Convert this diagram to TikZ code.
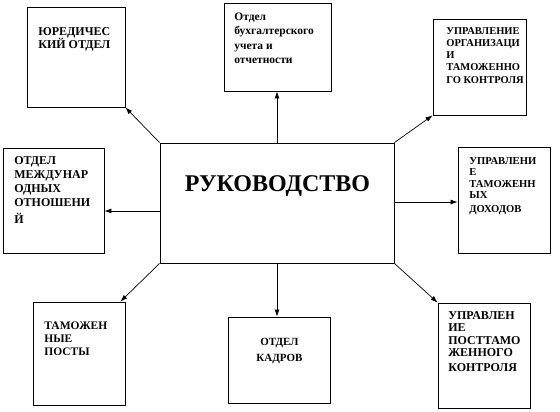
\documentclass[tikz,border=0pt]{standalone}
\usepackage{fontspec}
\setmainfont{Liberation Serif}
\usetikzlibrary{arrows.meta}
\tikzset{
  box/.style={draw,line width=.8pt,inner sep=0pt},
  lbl/.style n args={2}{inner sep=0pt,align=left,anchor=north west,font=\fontsize{#1}{#2}\selectfont\bfseries}
}
\begin{document}
\begin{tikzpicture}[>={Latex[length=7pt,width=5pt]},x=1pt,y=-1pt,line width=.7pt]
        \useasboundingbox (0,0) rectangle (560,412);
        \node[box,minimum width=234,minimum height=120](main) at (277,203){};
        \node[font=\fontsize{24}{28}\selectfont\bfseries,inner sep=0pt,anchor=base](maintxt) at (277.5,191){РУКОВОДСТВО};
        \node[box,minimum width=98,minimum height=100](jur) at (76,57){};
        \node[lbl={12}{13.5}](jurtxt) at (38,27){ЮРЕДИЧЕС\\КИЙ ОТДЕЛ};
        \node[box,minimum width=107,minimum height=88](buh) at (277.5,47){};
        \node[lbl={11.5}{14.5}](buhtxt) at (234,12.5){Отдел\\бухгалтерского\\учета и\\отчетности};
        \node[box,minimum width=93,minimum height=96](org) at (479.5,67){};
        \node[lbl={10.5}{12}](orgtxt) at (446,27.5){УПРАВЛЕНИЕ\\ОРГАНИЗАЦИ\\И\\ТАМОЖЕННО\\[1pt]ГО КОНТРОЛЯ};
        \node[box,minimum width=101,minimum height=105](int) at (53.5,200.5){};
        \node[lbl={12}{14}](inttxt) at (14,156){ОТДЕЛ\\МЕЖДУНАР\\ОДНЫХ\\ОТНОШЕНИ\\[3pt]Й};
        \node[box,minimum width=92,minimum height=106](doh) at (504,200){};
        \node[lbl={10.6}{11.5}](dohtxt) at (469,157){УПРАВЛЕНИ\\Е\\ТАМОЖЕНН\\ЫХ\\[2.5pt]ДОХОДОВ};
        \node[box,minimum width=92,minimum height=103](post) at (79,353.5){};
        \node[lbl={11.5}{13}](posttxt) at (44,322){ТАМОЖЕН\\НЫЕ\\ПОСТЫ};
        \node[box,minimum width=102,minimum height=86](kad) at (279,360){};
        \node[lbl={11}{16},align=center,anchor=north](kadtxt) at (279.5,338){ОТДЕЛ\\КАДРОВ};
        \node[box,minimum width=92,minimum height=105](pst) at (484,355.5){};
        \node[lbl={12}{12.5}](psttxt) at (448,311){УПРАВЛЕН\\ИЕ\\ПОСТТАМО\\ЖЕННОГО\\[2pt]КОНТРОЛЯ};
        \draw[->](main.north west)--(jur.south east);
        \draw[->](main.north)--(main.north|-buh.south);
        \draw[->](main.north east)--(org.south west);
        \draw[->]([yshift=-8pt]main.west)--([yshift=-8pt]main.west-|int.east);
        \draw[->]([yshift=1pt]main.east)--([yshift=1pt]main.east-|doh.west);
        \draw[->](main.south west)--([xshift=-5pt]post.north east);
        \draw[->](main.south)--(main.south|-kad.north);
        \draw[->](main.south east)--(pst.north west);
    \end{tikzpicture}
\end{document}
